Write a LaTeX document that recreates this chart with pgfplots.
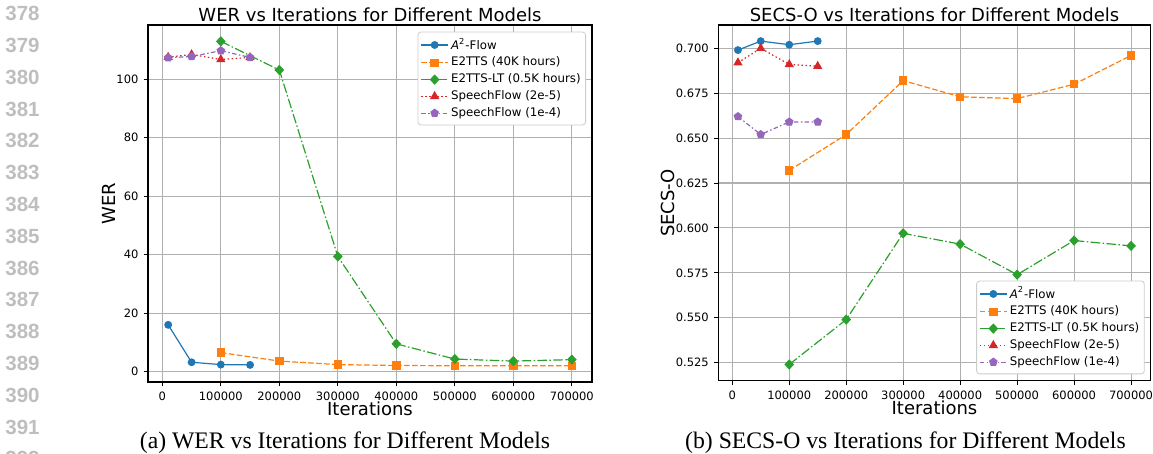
\documentclass[border=0pt]{standalone}
\usepackage{pgfplots}
\pgfplotsset{compat=1.18}
\usepackage{fontspec}
\setmainfont{DejaVu Sans}
\newfontfamily\linenofont{Liberation Sans}
\newfontfamily\capfont{Liberation Serif}

\definecolor{tabblue}{HTML}{1F77B4}
\definecolor{taborange}{HTML}{FF7F0E}
\definecolor{tabgreen}{HTML}{2CA02C}
\definecolor{tabred}{HTML}{D62728}
\definecolor{tabpurple}{HTML}{9467BD}
\definecolor{gridgray}{HTML}{B0B0B0}
\definecolor{linenogray}{RGB}{190,190,190}

\newcommand\legfont{\fontsize{5.9pt}{7pt}\selectfont}

% 1 px of the reference = 0.5pt
\pgfplotsset{
  every axis title shift=0pt,
  mpl/.style={
    scale only axis,
    anchor=south west,
    xmin=-24500, xmax=734500,
    xtick={0,100000,200000,300000,400000,500000,600000,700000},
    scaled x ticks=false, scaled y ticks=false,
    grid=major,
    major grid style={gridgray, line width=0.55pt},
    axis line style={black, line width=0.6pt},
    tick align=outside,
    major tick length=2.2pt,
    tick style={black, line width=0.5pt},
    xtick pos=bottom, ytick pos=left,
    ticklabel style={font=\fontsize{5.75pt}{6.9pt}\selectfont},
    /pgf/number format/assume math mode=true,
    xticklabel style={anchor=base, yshift=-7pt,
      /pgf/number format/fixed, /pgf/number format/1000 sep={}},
    yticklabel style={anchor=east, inner xsep=0pt, xshift=-2.4pt},
    title style={font=\fontsize{9pt}{10.8pt}\selectfont, anchor=base, yshift=0pt,
      at={([yshift=1.5pt]axis description cs:0.5,1)}},
    xlabel style={font=\fontsize{9pt}{10.8pt}\selectfont, anchor=base,
      at={([yshift=-17pt]axis description cs:0.5,0)}},
    ylabel style={font=\fontsize{9pt}{10.8pt}\selectfont, anchor=base},
    legend cell align=left,
    legend image code/.code={
      \draw[mark repeat=2, mark phase=2] plot coordinates {(0pt,0pt) (6.75pt,0pt) (13.5pt,0pt)};},
    legend style={font=\legfont,
      draw=black!20, rounded corners=1.5pt, fill=white,
      inner xsep=1.3pt, inner ysep=1.7pt, row sep=0pt,
      nodes={inner sep=1.2pt},
      /tikz/every even column/.append style={column sep=4.1pt}},
  },
  sA/.style={tabblue, solid, line width=0.6pt, mark=*, mark size=1.65pt,
    mark options={solid, fill=tabblue}},
  sB/.style={taborange, line width=0.6pt, dash pattern=on 2.8pt off 1.2pt,
    mark=square*, mark size=1.8pt, mark options={solid, fill=taborange}},
  sC/.style={tabgreen, line width=0.6pt, dash pattern=on 4.8pt off 1.2pt on 0.75pt off 1.2pt,
    mark=diamond*, mark size=2.15pt, mark options={solid, fill=tabgreen, xscale=1.25}},
  sD/.style={tabred, line width=0.6pt, dash pattern=on 0.75pt off 1.25pt,
    mark=triangle*, mark size=2.1pt, mark options={solid, fill=tabred}},
  sE/.style={tabpurple, line width=0.6pt, dash pattern=on 2.25pt off 1.2pt on 0.75pt off 1.2pt,
    mark=pentagon*, mark size=1.9pt, mark options={solid, fill=tabpurple}},
}

\begin{document}
\begin{tikzpicture}

% line numbers of the page
\foreach \n [count=\k from 0] in {378,...,392} {
  \node[anchor=base west, inner sep=0pt, text=linenogray,
    font=\linenofont\bfseries\fontsize{10.25pt}{12pt}\selectfont]
    at (2.5pt, {(454-20.7-31.8*\k)*0.5pt}) {\n};
}

% (a) WER
\begin{axis}[mpl,
    at={(74pt,36pt)}, width=222pt, height=178.5pt,
    ymin=-3.55, ymax=118.6,
    ytick={0,20,40,60,80,100},
    title={WER vs Iterations for Different Models},
    xlabel={Iterations}, ylabel={WER},
    ylabel style={at={([xshift=-16.5pt]axis description cs:0,0.5)}},
    legend style={at={(1,1)}, anchor=north east, xshift=-3pt, yshift=-3.35pt},
]
\addplot[sA] coordinates {(10000,16.0) (50000,3.2) (100000,2.4) (150000,2.3)};
\addlegendentry{\legfont{\itshape A}\textsuperscript{2}-Flow}
\addplot[sB] coordinates {(100000,6.5) (200000,3.6) (300000,2.4) (400000,2.1) (500000,2.0) (600000,2.0) (700000,2.0)};
\addlegendentry{\legfont E2TTS (40K hours)}
\addplot[sC] coordinates {(100000,113.0) (200000,103.2) (300000,39.4) (400000,9.5) (500000,4.3) (600000,3.6) (700000,4.1)};
\addlegendentry{\legfont E2TTS-LT (0.5K hours)}
\addplot[sD] coordinates {(10000,107.6) (50000,108.5) (100000,106.8) (150000,107.5)};
\addlegendentry{\legfont SpeechFlow (2e-5)}
\addplot[sE] coordinates {(10000,107.4) (50000,107.8) (100000,109.8) (150000,107.5)};
\addlegendentry{\legfont SpeechFlow (1e-4)}
\end{axis}

% (b) SECS-O
\begin{axis}[mpl,
    at={(359.15pt,36.65pt)}, width=216.2pt, height=177.85pt,
    ymin=0.51498, ymax=0.71297,
    ytick={0.525,0.55,0.575,0.6,0.625,0.65,0.675,0.7},
    yticklabel style={/pgf/number format/fixed, /pgf/number format/fixed zerofill,
      /pgf/number format/precision=3},
    title={SECS-O vs Iterations for Different Models},
    xlabel={Iterations}, ylabel={SECS-O},
    ylabel style={at={([xshift=-21.7pt]axis description cs:0,0.5)}},
    legend style={at={(1,0)}, anchor=south east, xshift=-3pt, yshift=3.2pt},
]
\addplot[sA] coordinates {(10000,0.699) (50000,0.704) (100000,0.702) (150000,0.704)};
\addlegendentry{\legfont{\itshape A}\textsuperscript{2}-Flow}
\addplot[sB] coordinates {(100000,0.632) (200000,0.652) (300000,0.682) (400000,0.673) (500000,0.672) (600000,0.680) (700000,0.696)};
\addlegendentry{\legfont E2TTS (40K hours)}
\addplot[sC] coordinates {(100000,0.524) (200000,0.549) (300000,0.597) (400000,0.591) (500000,0.574) (600000,0.593) (700000,0.590)};
\addlegendentry{\legfont E2TTS-LT (0.5K hours)}
\addplot[sD] coordinates {(10000,0.692) (50000,0.700) (100000,0.691) (150000,0.690)};
\addlegendentry{\legfont SpeechFlow (2e-5)}
\addplot[sE] coordinates {(10000,0.662) (50000,0.652) (100000,0.659) (150000,0.659)};
\addlegendentry{\legfont SpeechFlow (1e-4)}
\end{axis}

% captions
\node[anchor=base, inner sep=0pt, font=\capfont\fontsize{11.85pt}{14pt}\selectfont]
  at (172.5pt,2.5pt) {(a) WER vs Iterations for Different Models};
\node[anchor=base, inner sep=0pt, font=\capfont\fontsize{11.85pt}{14pt}\selectfont]
  at (452.75pt,2.5pt) {(b) SECS-O vs Iterations for Different Models};

\pgfresetboundingbox
\useasboundingbox (0,0) rectangle (576.5pt,227pt);
\end{tikzpicture}
\end{document}
